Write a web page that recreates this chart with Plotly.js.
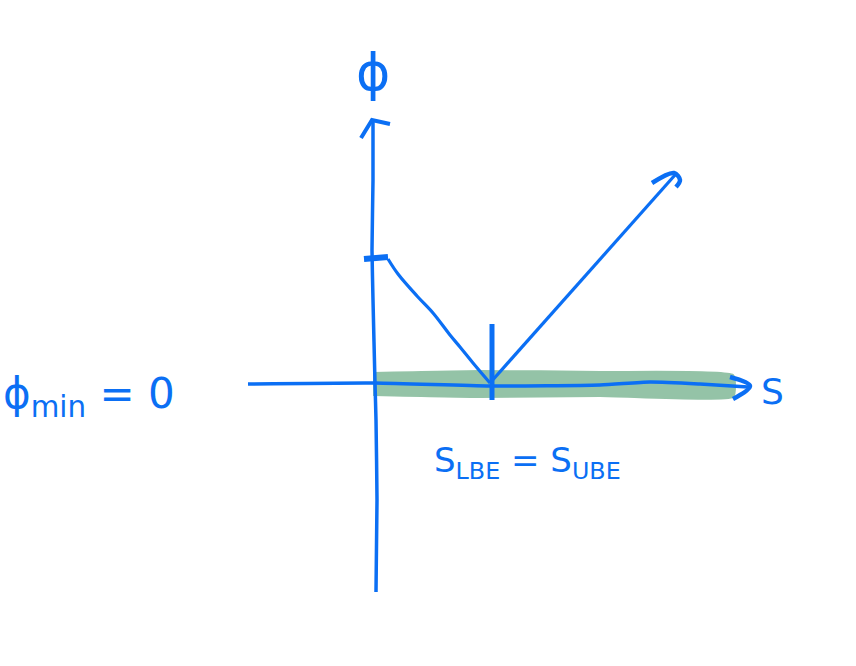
<!DOCTYPE html>
<html>
<head>
<meta charset="utf-8">
<script src="https://cdn.plot.ly/plotly-3.0.1.min.js"></script>
<style>html,body{margin:0;padding:0;background:#fff;}#chart{width:856px;height:666px;}</style>
</head>
<body>
<div id="chart"></div>
<script>
// Sketch read in units: s = horizontal, phi = vertical (origin at axis crossing)
const bandS   = [-0.02, 1.05, 2.25, 3.58, 3.60, 3.58, 2.25, 1.05, -0.02];
const bandPhi = [0.11, 0.13, 0.12, 0.09, -0.02, -0.13, -0.12, -0.13, -0.11];

const sAxisS   = [-1.27, 0, 1.15, 2.25, 2.75, 3.25, 3.73];
const sAxisPhi = [0, 0.01, -0.02, -0.01, 0.02, 0, -0.03];
const sHeadS   = [3.55, 3.75, 3.58];
const sHeadPhi = [0.07, -0.02, -0.15];

const pAxisS   = [0.01, 0.02, 0.01, 0, -0.02, -0.03, -0.02, -0.02];
const pAxisPhi = [-2.08, -1.16, -0.36, 0.01, 0.84, 1.34, 2.04, 2.64];
const pHeadS   = [-0.14, -0.03, 0.15];
const pHeadPhi = [2.46, 2.64, 2.60];

const curveS   = [0.13, 0.23, 0.42, 0.58, 0.75, 0.85, 0.98, 1.15];
const curvePhi = [1.25, 1.10, 0.88, 0.71, 0.49, 0.37, 0.21, 0.01];
const tickS    = [-0.11, 0.13];
const tickPhi  = [1.25, 1.27];

const rayS     = [1.15, 3.00];
const rayPhi   = [0.01, 2.09];
const rayHeadS   = [2.77, 2.99, 3.05, 3.01];
const rayHeadPhi = [2.01, 2.11, 2.04, 1.97];

const downS    = [1.17, 1.17];
const downPhi  = [0.60, -0.16];

const labels = {
  phiAxis: 'ϕ',
  sAxis: 'S',
  phiMin: 'ϕ<sub>min</sub> = 0',
  sEq: 'S<sub>LBE</sub> = S<sub>UBE</sub>'
};

const BLUE = '#0b6ff4';
const GREEN = '#94c3a7';
const font = 'DejaVu Sans, sans-serif';

function ln(x, y, w, smooth) {
  return {x: x, y: y, mode: 'lines', type: 'scatter', hoverinfo: 'skip',
          line: smooth ? {color: BLUE, width: w, shape: 'spline', smoothing: smooth}
                       : {color: BLUE, width: w}};
}

const traces = [
  {x: bandS, y: bandPhi, mode: 'lines', type: 'scatter', fill: 'toself',
   fillcolor: GREEN, line: {color: GREEN, width: 2, shape: 'spline', smoothing: 0.5}, hoverinfo: 'skip'},
  ln(sAxisS, sAxisPhi, 3.5, 0.6),
  ln(sHeadS, sHeadPhi, 4.5, 1),
  ln(pAxisS, pAxisPhi, 3.5, 0.4),
  ln(pHeadS, pHeadPhi, 4, 0),
  ln(curveS, curvePhi, 3.2, 1),
  ln(tickS, tickPhi, 6, 0),
  ln(rayS, rayPhi, 3.2, 0),
  ln(rayHeadS, rayHeadPhi, 4.5, 1),
  ln(downS, downPhi, 5, 0)
];

const layout = {
  width: 856, height: 666,
  margin: {l: 0, r: 0, t: 0, b: 0},
  paper_bgcolor: '#ffffff', plot_bgcolor: '#ffffff',
  showlegend: false,
  xaxis: {range: [-3.75, 4.81], visible: false, fixedrange: true},
  yaxis: {range: [-2.82, 3.84], visible: false, fixedrange: true},
  annotations: [
    {x: -0.02, y: 3.12, text: labels.phiAxis, showarrow: false,
     font: {family: font, size: 52, color: BLUE}},
    {x: 3.97, y: -0.07, text: labels.sAxis, showarrow: false,
     font: {family: font, size: 36, color: BLUE}},
    {x: -3.74, y: -0.12, xanchor: 'left', text: labels.phiMin, showarrow: false,
     font: {family: font, size: 42, color: BLUE}},
    {x: 1.52, y: -0.78, text: labels.sEq, showarrow: false,
     font: {family: font, size: 34, color: BLUE}}
  ]
};

Plotly.newPlot('chart', traces, layout, {staticPlot: true, displayModeBar: false});
</script>
</body>
</html>
